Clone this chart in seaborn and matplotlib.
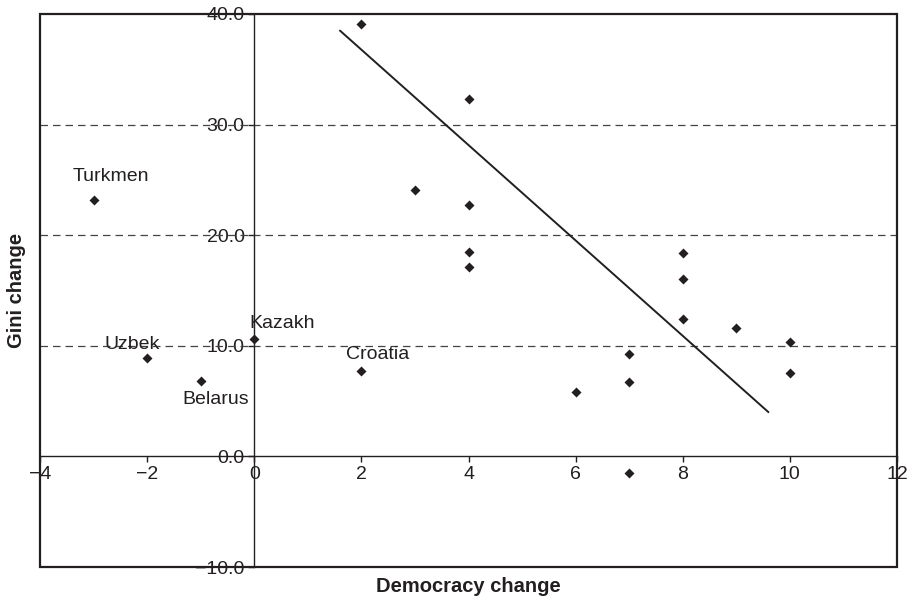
import matplotlib
matplotlib.use("Agg")
import matplotlib.pyplot as plt
from matplotlib.patches import Rectangle
from matplotlib.ticker import FuncFormatter
import seaborn as sns
import pandas as pd

# Democracy change vs Gini change, one point per country
democracy = [-3, -2, -1, 0, 2, 2, 3, 4, 4, 4, 4, 6, 7, 7, 7, 8, 8, 8, 9, 10, 10]
gini = [23.2, 8.9, 6.8, 10.6, 7.7, 39.1, 24.1, 32.3, 22.7, 18.5, 17.1,
        5.8, 9.3, 6.75, -1.5, 18.4, 16.0, 12.4, 11.6, 10.3, 7.5]

# fitted trend line (ends)
fit_x = [1.6, 9.6]
fit_y = [38.5, 4.0]

# labelled countries and their text offsets (points)
labels = ["Turkmen", "Uzbek", "Belarus", "Kazakh", "Croatia"]
label_x = [-3, -2, -1, 0, 2]
label_y = [23.2, 8.9, 6.8, 10.6, 7.7]
label_off = [(12.5, 16.5), (-11, 9.5), (11, -13), (20, 11.5), (11.5, 12)]

df = pd.DataFrame({"Democracy change": democracy, "Gini change": gini})
fit = pd.DataFrame({"x": fit_x, "y": fit_y})

sns.set_theme(style="white")
plt.rcParams["font.family"] = ["Liberation Sans", "DejaVu Sans"]
ink = "#231f20"

fig = plt.figure(figsize=(9.07, 5.97), dpi=100)
ax = fig.add_axes([40 / 907, 30 / 597, 857 / 907, 553 / 597])

# dashed reference lines
for yv in [10, 20, 30]:
    ax.axhline(yv, color="#444444", lw=0.9, ls=(0, (6, 4)), zorder=1)

sns.scatterplot(data=df, x="Democracy change", y="Gini change", marker="D",
                color=ink, s=26, edgecolor=ink, linewidth=0, ax=ax, zorder=3)
sns.lineplot(data=fit, x="x", y="y", color=ink, lw=1.4, ax=ax, zorder=2)

for name, lx, ly, off in zip(labels, label_x, label_y, label_off):
    ax.annotate(name, (lx, ly), xytext=off, textcoords="offset points",
                ha="center", va="center", fontsize=14, color=ink)

ax.set_xlim(-4, 12)
ax.set_ylim(-10, 40)
ax.set_xticks(range(-4, 13, 2))
ax.set_yticks(range(-10, 41, 10))
ax.yaxis.set_major_formatter(FuncFormatter(lambda v, p: f"{v:.1f}".replace("-", "\u2212")))
ax.xaxis.set_major_formatter(FuncFormatter(lambda v, p: f"{v:.0f}".replace("-", "\u2212")))

# axes crossing at zero
ax.spines["left"].set_position(("data", 0))
ax.spines["bottom"].set_position(("data", 0))
ax.spines["top"].set_visible(False)
ax.spines["right"].set_visible(False)
for s in ["left", "bottom"]:
    ax.spines[s].set_color(ink)
    ax.spines[s].set_linewidth(1.0)

# outer frame
ax.add_patch(Rectangle((0, 0), 1, 1, transform=ax.transAxes, fill=False,
                       ec=ink, lw=1.6, clip_on=False, zorder=4))

ax.tick_params(axis="both", direction="out", length=4, width=1, color=ink,
               labelsize=14, labelcolor=ink, pad=3)
ax.tick_params(axis="x", bottom=True)
ax.tick_params(axis="y", left=True)

ax.set_xlabel("Democracy change", fontsize=14.5, fontweight="bold", color=ink)
ax.set_ylabel("Gini change", fontsize=14.5, fontweight="bold", color=ink)
ax.xaxis.set_label_coords(0.5, -0.018)
ax.yaxis.set_label_coords(-0.016, 0.5)

fig.savefig("out.png", dpi=100)
